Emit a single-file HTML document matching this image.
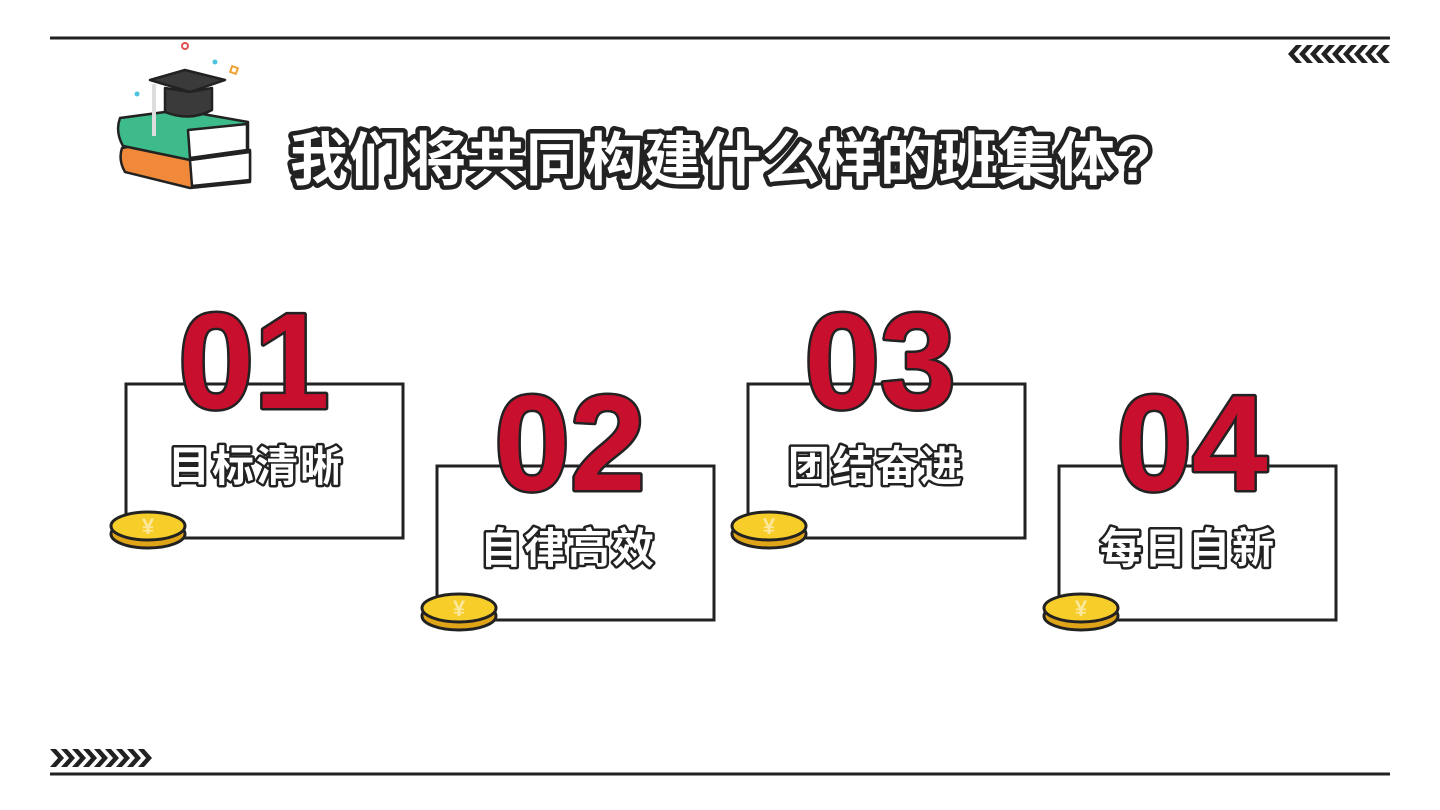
<!DOCTYPE html>
<html><head><meta charset="utf-8"><style>
html,body{margin:0;padding:0;background:#fff;}
svg{display:block}
.t{font-family:"Liberation Sans","Noto Sans CJK SC",sans-serif;font-weight:bold;paint-order:stroke;stroke-linejoin:round}
</style></head><body>
<svg width="1440" height="810" viewBox="0 0 1440 810" xmlns="http://www.w3.org/2000/svg">
<defs>
<g id="coin">
<ellipse cx="0" cy="8" rx="37" ry="14" fill="#e0a418" stroke="#222" stroke-width="3"/>
<ellipse cx="0" cy="0" rx="37" ry="14" fill="#f7cd2a" stroke="#222" stroke-width="3"/>
<text x="0" y="8" text-anchor="middle" font-size="22" fill="#fbe89a" font-family="Liberation Sans,sans-serif" font-weight="bold">¥</text>
</g>
<polygon id="chevL" points="8,0 14,0 6,9 14,18 8,18 0,9" fill="#222"/>
<polygon id="chevR" points="0,0 6,0 14,9 6,18 0,18 8,9" fill="#222"/>
</defs>
<line x1="50" y1="38" x2="1390" y2="38" stroke="#222" stroke-width="3"/>
<line x1="50" y1="774" x2="1390" y2="774" stroke="#222" stroke-width="3"/>
<g transform="translate(1288,45)">
<use href="#chevL" x="0"/><use href="#chevL" x="11"/><use href="#chevL" x="22"/><use href="#chevL" x="33"/><use href="#chevL" x="44"/><use href="#chevL" x="55"/><use href="#chevL" x="66"/><use href="#chevL" x="77"/><use href="#chevL" x="88"/>
</g>
<g transform="translate(50,749)">
<use href="#chevR" x="0"/><use href="#chevR" x="11"/><use href="#chevR" x="22"/><use href="#chevR" x="33"/><use href="#chevR" x="44"/><use href="#chevR" x="55"/><use href="#chevR" x="66"/><use href="#chevR" x="77"/><use href="#chevR" x="88"/>
</g>
<g stroke="#222" stroke-width="2.5" stroke-linejoin="round">
<path d="M122,148 L180,138 L250,150 L250,182 L190,188 L125,172 Q118,160 122,148Z" fill="#f08a3a"/>
<path d="M190,160 L250,152 L250,180 L192,186Z" fill="#fff"/>
<path d="M120,118 L180,110 L248,122 L248,152 L190,160 L123,146 Q115,132 120,118Z" fill="#3dbb8a"/>
<path d="M188,130 L247,124 L247,150 L190,158Z" fill="#fff"/>
<path d="M150,80 L185,70 L225,80 L190,92Z" fill="#3a3a3a"/>
<path d="M165,88 L165,112 Q190,122 212,110 L212,88 L190,92Z" fill="#3a3a3a"/>
<line x1="154" y1="84" x2="154" y2="136" stroke="#ddd" stroke-width="4"/>
</g>
<circle cx="185" cy="46" r="3" fill="none" stroke="#e05050" stroke-width="2"/>
<circle cx="215" cy="62" r="2.5" fill="#4cc4e0"/>
<rect x="231" y="67" width="6" height="6" fill="none" stroke="#f0a030" stroke-width="2" transform="rotate(20 234 70)"/>
<circle cx="137" cy="94" r="2.5" fill="#4cc4e0"/>
<text class="t" x="290" y="180" font-size="58" letter-spacing="1" fill="#fff" stroke="#222" stroke-width="9">我们将共同构建什么样的班集体?</text>
<g fill="#fff" stroke="#222" stroke-width="3">
<rect x="126" y="384" width="277" height="154"/>
<rect x="437" y="466" width="277" height="154"/>
<rect x="748" y="384" width="277" height="154"/>
<rect x="1059" y="466" width="277" height="154"/>
</g>
<g class="t" font-size="136" fill="#c8102e" stroke="#222" stroke-width="5" text-anchor="middle">
<text x="254" y="408">01</text>
<text x="570" y="490">02</text>
<text x="880" y="408">03</text>
<text x="1192" y="490">04</text>
</g>
<g class="t" font-size="42" fill="#fff" stroke="#222" stroke-width="5" text-anchor="middle" letter-spacing="2">
<text x="256" y="481">目标清晰</text>
<text x="568" y="563">自律高效</text>
<text x="876" y="481">团结奋进</text>
<text x="1188" y="563">每日自新</text>
</g>
<use href="#coin" x="148" y="526"/>
<use href="#coin" x="459" y="608"/>
<use href="#coin" x="769" y="526"/>
<use href="#coin" x="1081" y="608"/>
</svg>
</body></html>
